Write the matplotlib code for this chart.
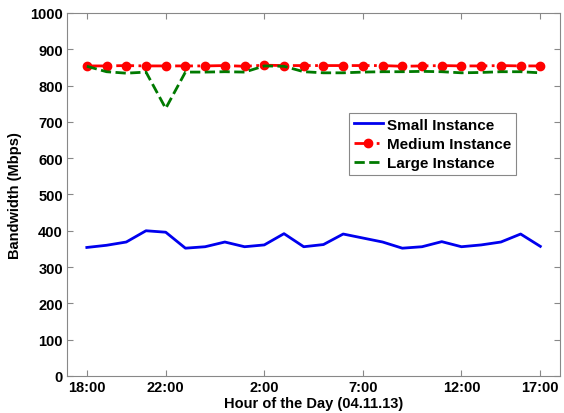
import matplotlib
matplotlib.use("Agg")
import matplotlib.pyplot as plt

plt.rcParams["font.family"] = ["Liberation Sans", "DejaVu Sans"]
plt.rcParams["font.weight"] = "bold"

# hourly samples, 18:00 on 04.11.13 to 17:00 the next day
hours = list(range(1, 25))
tick_pos = [1, 5, 10, 15, 20, 24]
tick_labels = ["18:00", "22:00", "2:00", "7:00", "12:00", "17:00"]

small = [354, 360, 369, 400, 396, 352, 356, 369, 356, 361, 392, 356,
         362, 391, 380, 369, 352, 356, 370, 356, 361, 369, 391, 357]
medium = [854, 854, 855, 854, 854, 854, 854, 855, 853, 856, 855, 855,
          855, 855, 855, 855, 853, 854, 855, 854, 854, 855, 854, 854]
large = [853, 838, 834, 837, 737, 837, 837, 838, 837, 854, 853, 838,
         835, 835, 837, 838, 838, 839, 838, 835, 836, 838, 838, 835]

fig = plt.figure(figsize=(5.64, 4.14), dpi=100)
ax = fig.add_axes([0.119, 0.0894, 0.874, 0.877])

ax.plot(hours, small, color="#0000ee", linewidth=2, label="Small Instance")
ax.plot(hours, medium, color="red", linestyle="-.", linewidth=2, marker="o",
        markersize=6, label="Medium Instance")
ax.plot(hours, large, color="#007a00", linestyle="--", linewidth=2, label="Large Instance")

ax.set_xlim(0, 25)
ax.set_ylim(0, 1000)
ax.set_yticks(range(0, 1001, 100))
ax.set_xticks(tick_pos)
ax.set_xticklabels(tick_labels)
ax.tick_params(direction="in", top=True, right=True, length=4, color="#888888",
               labelsize=10.5, pad=3)
for s in ax.spines.values():
    s.set_color("#888888")

ax.set_xlabel("Hour of the Day (04.11.13)", fontsize=10.5, fontweight="bold", labelpad=1)
ax.set_ylabel("Bandwidth (Mbps)", fontsize=10.5, fontweight="bold", labelpad=6)

leg = ax.legend(loc="upper left", bbox_to_anchor=(0.572, 0.7245), borderaxespad=0,
                fancybox=False, framealpha=1, edgecolor="#888888", fontsize=11,
                handlelength=1.9, handletextpad=0.3, borderpad=0.3, labelspacing=0.35)
leg.get_frame().set_linewidth(0.8)

fig.savefig("out.png", dpi=100)
